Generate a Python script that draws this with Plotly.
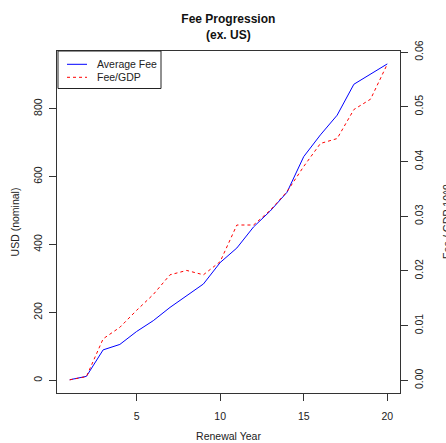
import plotly.graph_objects as go

years = list(range(1, 21))
avg_fee = [2, 12, 90, 106, 144, 176, 215, 249, 284, 347, 390, 452, 499, 554, 659, 723, 781, 872, 902, 932]
fee_gdp = [0.0001, 0.0007, 0.0076, 0.0097, 0.0128, 0.0157, 0.0193, 0.0201, 0.0193, 0.0217,
           0.0284, 0.0284, 0.0311, 0.0345, 0.0391, 0.0433, 0.0442, 0.0495, 0.0514, 0.0578]
x_ticks = [5, 10, 15, 20]
y_ticks = [0, 200, 400, 600, 800]
y2_ticks = [0.00, 0.01, 0.02, 0.03, 0.04, 0.05, 0.06]
series_names = ["Average Fee", "Fee/GDP"]
series_colors = ["#0000FF", "#FF0000"]
series_dash = ["solid", "3px,3px"]

FONT = "Liberation Sans, Arial, sans-serif"
FS = 10.5
W, H = 446, 443
ML, MR, MT, MB = 57, 46, 51, 50
PW, PH = W - ML - MR, H - MT - MB


def px(x):
    return (x - ML) / PW


def py(y):
    return (H - MB - y) / PH


fig = go.Figure()
fig.add_trace(go.Scatter(x=years, y=avg_fee, mode="lines", name=series_names[0],
                         line=dict(color=series_colors[0], width=1, dash=series_dash[0])))
fig.add_trace(go.Scatter(x=years, y=fee_gdp, mode="lines", name=series_names[1], yaxis="y2",
                         line=dict(color=series_colors[1], width=1, dash=series_dash[1])))

axis_common = dict(showgrid=False, zeroline=False, showline=True, linecolor="#333",
                   linewidth=1, ticks="outside", ticklen=7, tickcolor="#333",
                   automargin=False,
                   tickfont=dict(family=FONT, size=FS, color="#222"))

shapes = [dict(type="rect", xref="paper", yref="paper", x0=px(58), x1=px(161),
               y0=py(88.5), y1=py(51), line=dict(color="#222", width=1),
               fillcolor="white", layer="above")]
annotations = []
for i, (nm, col, ds) in enumerate(zip(series_names, series_colors, series_dash)):
    yy = py(64.3 + 13 * i)
    shapes.append(dict(type="line", xref="paper", yref="paper", x0=px(67), x1=px(87),
                       y0=yy, y1=yy, line=dict(color=col, width=1, dash=ds), layer="above"))
    annotations.append(dict(text=nm, xref="paper", yref="paper", x=px(95), y=yy,
                            xanchor="left", yanchor="middle", showarrow=False,
                            font=dict(family=FONT, size=FS, color="#222")))

annotations.append(dict(text="Fee / GDP 10^9", xref="paper", yref="paper", x=1.0,
                        xshift=39, y=0.5, textangle=-90, showarrow=False,
                        xanchor="left", yanchor="middle",
                        font=dict(family=FONT, size=FS, color="#222")))

fig.update_layout(
    width=W, height=H,
    margin=dict(l=ML, r=MR, t=MT, b=MB),
    paper_bgcolor="white", plot_bgcolor="white",
    font=dict(family=FONT, size=FS, color="#222"),
    title=dict(text="<b>Fee Progression<br>(ex. US)</b>", x=0.512, xanchor="center",
               y=0.948, yanchor="top", font=dict(family=FONT, size=12, color="#111")),
    xaxis=dict(range=[0.24, 20.76], tickvals=x_ticks, mirror=True, ticklabelstandoff=6,
               title=dict(text="Renewal Year", font=dict(family=FONT, size=FS), standoff=12),
               **axis_common),
    yaxis=dict(range=[-37, 970], tickvals=y_ticks, tickangle=-90, mirror=True,
               ticklabelstandoff=3,
               title=dict(text="USD (nominal)", font=dict(family=FONT, size=FS), standoff=10),
               **axis_common),
    yaxis2=dict(range=[-0.0023, 0.0602], tickvals=y2_ticks, tickformat=".2f",
                tickangle=-90, overlaying="y", side="right", ticklabelstandoff=2,
                **axis_common),
    showlegend=False,
    shapes=shapes,
    annotations=annotations,
)

fig.write_html("out.html")
